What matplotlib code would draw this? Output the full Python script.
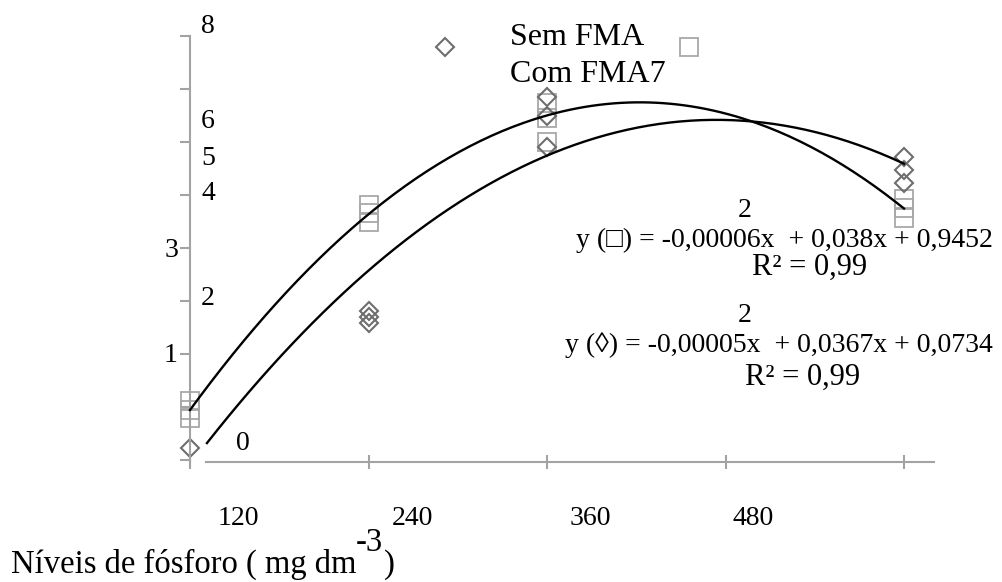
import matplotlib
matplotlib.use("Agg")
import matplotlib.pyplot as plt
import numpy as np

# ---------------- data ----------------
x_levels = [0, 120, 240, 360, 480]
x_tick_labels = ["120", "240", "360", "480"]
y_ticks = [0, 1, 2, 3, 4, 5, 6, 7, 8]
y_tick_labels = ["8", "6", "5", "4", "3", "2", "1", "0"]

# Com FMA7 (squares)
sq_x = [0, 0, 0, 120, 120, 120, 240, 240, 240, 480, 480, 480]
sq_y = [1.11, 0.94, 0.79, 4.81, 4.66, 4.49, 6.74, 6.45, 6.00, 4.92, 4.75, 4.57]
# Sem FMA (diamonds)
di_x = [0, 120, 120, 120, 240, 240, 240, 480, 480, 480]
di_y = [0.23, 2.81, 2.70, 2.58, 6.85, 6.49, 5.91, 5.72, 5.47, 5.23]

# trend curves (quadratic coefficients a, b, c)
sq_coef = [-0.0000635, 0.0384, 0.943]
sq_range = [0, 480]
di_coef = [-0.000052, 0.0368, -0.093]
di_range = [11.4, 480]

legend_labels = ["Sem FMA", "Com FMA7"]
eq_sq = "y (\u25A1) = -0,00006x  + 0,038x + 0,9452"
eq_di = "y (\u25CA) = -0,00005x  + 0,0367x + 0,0734"
r2_text = "R\u00B2 = 0,99"
xlabel_main = "N\u00edveis de f\u00f3sforo ( mg dm"
xlabel_sup = "-3"
xlabel_end = ")"

# ---------------- style ----------------
W, H = 1002, 582
FONT = ["Liberation Serif", "DejaVu Serif"]
plt.rcParams["font.family"] = FONT
AXC = "#a3a3a3"
SQC = "#a8a8a8"
DIC = "#6e6e6e"

fig = plt.figure(figsize=(W / 100, H / 100), dpi=100)

def fx(px):
    return px / W

def fy(py):
    return 1 - py / H

ax_l, ax_r, ax_t, ax_b = 190, 934, 36, 462
ax = fig.add_axes([fx(ax_l), fy(ax_b), (ax_r - ax_l) / W, (ax_b - ax_t) / H])
px_per_x = 178.5 / 120
px_per_y = 53.0
ax.set_xlim(0, (ax_r - ax_l) / px_per_x)
ax.set_ylim(8 - (ax_b - ax_t) / px_per_y, 8)

for s in ["top", "right"]:
    ax.spines[s].set_visible(False)
for s in ["left", "bottom"]:
    ax.spines[s].set_color(AXC)
    ax.spines[s].set_linewidth(1.5)
ax.spines["bottom"].set_bounds(10.7, (ax_r - ax_l) / px_per_x)
ax.spines["left"].set_bounds(-0.13, 8)

ax.set_xticks(x_levels)
ax.set_yticks(y_ticks)
ax.tick_params(axis="x", direction="inout", length=10, width=1.5, color=AXC,
               labelbottom=False)
ax.tick_params(axis="y", direction="out", length=7, width=1.5, color=AXC,
               labelleft=False)

# curves
for coef, rng in [(sq_coef, sq_range), (di_coef, di_range)]:
    xs = np.linspace(rng[0], rng[1], 200)
    ax.plot(xs, np.polyval(coef, xs), color="black", lw=1.7, zorder=3,
            clip_on=False)

# points
ax.plot(sq_x, sq_y, linestyle="none", marker="s", markersize=13,
        markerfacecolor="none", markeredgecolor=SQC, markeredgewidth=1.3,
        zorder=2, clip_on=False)
ax.plot(di_x, di_y, linestyle="none", marker="D", markersize=9.5,
        markerfacecolor="none", markeredgecolor=DIC, markeredgewidth=1.5,
        zorder=2, clip_on=False)

# y tick labels placed as in the reference
ylab_pos = [(208, 33), (208, 128), (208, 165), (208, 200), (172, 257),
            (208, 305), (171, 362), (243, 450)]
for lab, (px, py) in zip(y_tick_labels, ylab_pos):
    fig.text(fx(px), fy(py), lab, ha="center", va="baseline", fontsize=20)

# x tick labels
xlab_pos = [238, 412, 590, 753]
for lab, px in zip(x_tick_labels, xlab_pos):
    fig.text(fx(px), fy(525), lab, ha="center", va="baseline", fontsize=20)

# legend
fig.lines.append(plt.Line2D([fx(445)], [fy(47)], transform=fig.transFigure,
                            marker="D", markersize=9.5, markerfacecolor="none",
                            markeredgecolor=DIC, markeredgewidth=1.5,
                            linestyle="none"))
fig.lines.append(plt.Line2D([fx(689)], [fy(47)], transform=fig.transFigure,
                            marker="s", markersize=13, markerfacecolor="none",
                            markeredgecolor=SQC, markeredgewidth=1.3,
                            linestyle="none"))
fig.text(fx(510), fy(45), legend_labels[0], ha="left", va="baseline", fontsize=23)
fig.text(fx(510), fy(82), legend_labels[1], ha="left", va="baseline", fontsize=23)

# equations
fig.text(fx(993), fy(247), eq_sq, ha="right", va="baseline", fontsize=20)
fig.text(fx(745), fy(217), "2", ha="center", va="baseline", fontsize=20)
fig.text(fx(810), fy(275), r2_text, ha="center", va="baseline", fontsize=22)
fig.text(fx(993), fy(352), eq_di, ha="right", va="baseline", fontsize=20)
fig.text(fx(745), fy(322), "2", ha="center", va="baseline", fontsize=20)
fig.text(fx(803), fy(385), r2_text, ha="center", va="baseline", fontsize=22)

# x-axis title with superscript
TFS = 23.5
t1 = fig.text(fx(11), fy(573), xlabel_main, ha="left", va="baseline", fontsize=TFS)
fig.canvas.draw()
bb = t1.get_window_extent()
t2 = fig.text((bb.x1 - 1) / W, fy(551), xlabel_sup, ha="left", va="baseline",
              fontsize=TFS)
fig.canvas.draw()
bb2 = t2.get_window_extent()
fig.text((bb2.x1 + 1) / W, fy(573), xlabel_end, ha="left", va="baseline",
         fontsize=TFS)

fig.savefig("out.png", dpi=100)
